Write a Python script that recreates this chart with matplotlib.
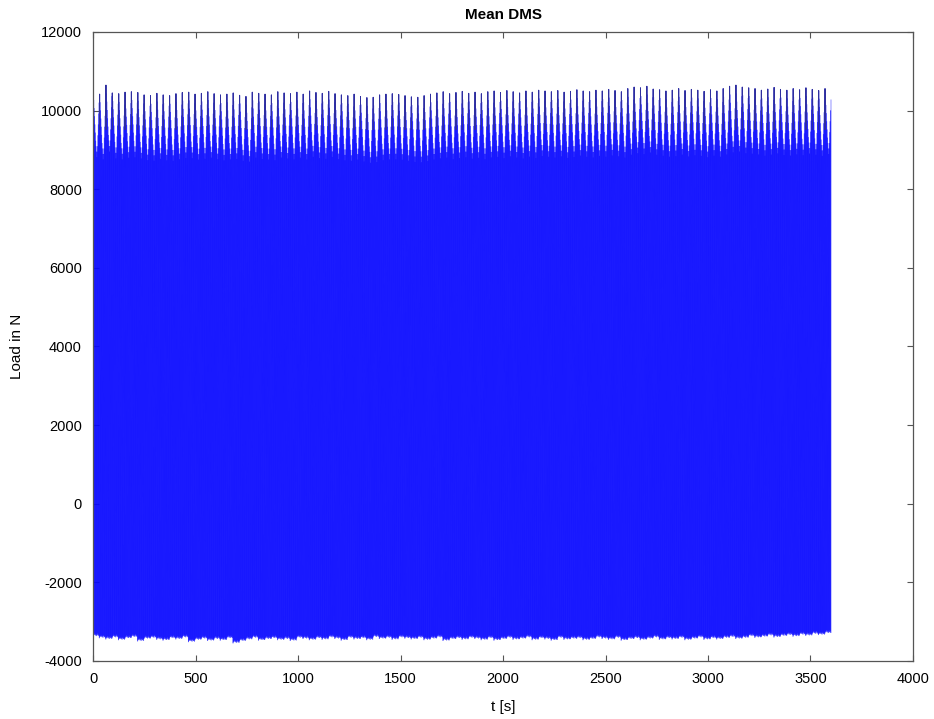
"""
Mean DMS load signal over the test run.
Per-cycle peak and valley loads, with the sampled peak shape inside each cycle.
"""

import numpy as np
import matplotlib.pyplot as plt
from matplotlib.collections import LineCollection
from matplotlib.patches import Rectangle

plt.rcParams['font.family'] = ['Liberation Sans', 'DejaVu Sans']
plt.rcParams['axes.unicode_minus'] = False

# Peak load per cycle block (N)
peak_load = [
    10480, 10420, 10650, 10450, 10430, 10470, 10480, 10460, 10400, 10380,
    10440, 10400, 10380, 10430, 10460, 10470, 10420, 10440, 10480, 10430,
    10400, 10420, 10450, 10390, 10360, 10470, 10440, 10420, 10400, 10480,
    10450, 10430, 10470, 10420, 10500, 10460, 10440, 10490, 10430, 10400,
    10380, 10420, 10360, 10330, 10340, 10400, 10420, 10430, 10410, 10380,
    10350, 10340, 10380, 10420, 10450, 10480, 10430, 10460, 10490, 10440,
    10470, 10430, 10480, 10500, 10460, 10510, 10480, 10450, 10500, 10470,
    10520, 10500, 10480, 10510, 10470, 10490, 10530, 10500, 10480, 10520,
    10500, 10540, 10510, 10480, 10560, 10600, 10580, 10620, 10550, 10530,
    10500, 10520, 10560, 10510, 10540, 10520, 10490, 10530, 10500, 10560,
    10620, 10650, 10600, 10580, 10560, 10520, 10550, 10590, 10540, 10520,
    10560, 10530, 10580, 10540, 10510, 10560,
]

# Valley load per cycle block (N)
valley_load = [
    -3380, -3420, -3450, -3410, -3470, -3430, -3400, -3500, -3440, -3420,
    -3460, -3480, -3430, -3450, -3410, -3520, -3470, -3440, -3490, -3450,
    -3480, -3430, -3550, -3500, -3460, -3420, -3480, -3450, -3430, -3470,
    -3450, -3490, -3420, -3440, -3470, -3430, -3460, -3410, -3440, -3480,
    -3420, -3450, -3430, -3470, -3400, -3440, -3420, -3460, -3410, -3430,
    -3450, -3420, -3470, -3440, -3410, -3490, -3450, -3430, -3460, -3420,
    -3440, -3470, -3430, -3480, -3450, -3420, -3460, -3440, -3410, -3470,
    -3430, -3450, -3480, -3420, -3460, -3440, -3430, -3470, -3450, -3410,
    -3440, -3460, -3420, -3480, -3450, -3430, -3470, -3440, -3410, -3460,
    -3430, -3450, -3420, -3470, -3440, -3410, -3460, -3430, -3450, -3420,
    -3400, -3440, -3420, -3380, -3410, -3390, -3360, -3400, -3370, -3350,
    -3380, -3340, -3360, -3320, -3340, -3300,
]

# Sampled height of the load cycles inside one block (fraction of block range)
sub_peak_frac = [1.00, 0.985, 0.97, 0.955, 0.94, 0.925, 0.91, 0.90, 0.89,
                 0.88, 0.89, 0.90, 0.92, 0.94, 0.96, 0.98]
sub_valley_frac = [0.000, 0.002, 0.004, 0.003, 0.006, 0.004, 0.002, 0.005,
                   0.003, 0.001, 0.004, 0.006, 0.003, 0.002, 0.004, 0.001]

T_END = 3600.0


def build_signal():
    peaks = np.asarray(peak_load, dtype=float)
    valleys = np.asarray(valley_load, dtype=float)
    span = peaks - valleys
    hi = valleys[:, None] + span[:, None] * np.asarray(sub_peak_frac)[None, :]
    lo = valleys[:, None] + span[:, None] * np.asarray(sub_valley_frac)[None, :]

    # alternate valley / peak for every sampled cycle
    load = np.stack([lo, hi], axis=2).reshape(-1)
    t = np.linspace(0, T_END, load.size)
    return t, load


def main():
    t, load = build_signal()
    n_sub = len(sub_peak_frac)

    fig = plt.figure(figsize=(9.34, 7.19), dpi=100)
    ax = fig.add_axes([0.0996, 0.0807, 0.8779, 0.8748])

    # each stroke drawn on its own so overlapping strokes build up density
    pts = np.column_stack([t, load])
    segs = np.stack([pts[:-1], pts[1:]], axis=1)
    ax.add_collection(LineCollection(segs, colors='#0a0aff', linewidths=0.7, alpha=0.45))

    # full-height stroke of every block, darker where it stands alone at the top
    step = 2 * n_sub
    idx = np.arange(len(peak_load)) * step
    nxt = np.minimum(idx + 2, t.size - 1)
    seg_t = np.column_stack([t[idx], t[idx + 1], t[nxt]]).ravel()
    seg_y = np.column_stack([load[idx], load[idx + 1], load[nxt]]).ravel()
    top_line, = ax.plot(seg_t, seg_y, color='#2e2e9e', linewidth=0.7)
    top_line.set_clip_path(Rectangle((0, 9500), 4000, 3000, transform=ax.transData))

    ax.set_xlim(0, 4000)
    ax.set_ylim(-4000, 12000)
    ax.set_xticks(np.arange(0, 4001, 500))
    ax.set_yticks(np.arange(-4000, 12001, 2000))

    ax.tick_params(direction='in', top=True, right=True, length=4.5,
                   width=0.8, color='#555555', labelsize=10.5, pad=8)
    for spine in ax.spines.values():
        spine.set_color('#555555')
        spine.set_linewidth(0.9)

    ax.set_title('Mean DMS', fontsize=11, fontweight='bold', pad=9)
    ax.set_xlabel('t [s]', fontsize=11, labelpad=10)
    ax.set_ylabel('Load in N', fontsize=11, labelpad=12)

    fig.savefig('out.png', dpi=100)
    plt.close(fig)


if __name__ == "__main__":
    main()
